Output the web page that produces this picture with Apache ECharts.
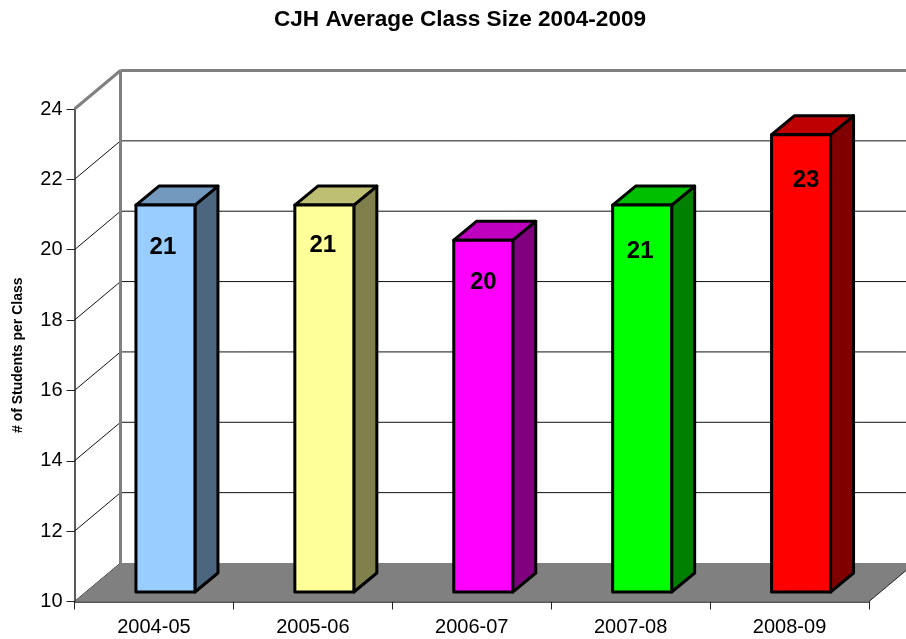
<!DOCTYPE html>
<html>
<head>
<meta charset="utf-8">
<title>CJH Average Class Size</title>
<script src="https://cdn.jsdelivr.net/npm/echarts@6/dist/echarts.min.js"></script>
<style>
html, body { margin: 0; padding: 0; background: #fff; }
#chart { width: 906px; height: 639px; }
</style>
</head>
<body>
<div id="chart"></div>
<script>
const years = ['2004-05', '2005-06', '2006-07', '2007-08', '2008-09'];
const classSize = [21, 21, 20, 21, 23];
const yTicks = [10, 12, 14, 16, 18, 20, 22, 24];

const frontColors = ['#99CCFF', '#FFFF99', '#FF00FF', '#00FF00', '#FF0000'];
const topColors = ['#7399BF', '#BFBF73', '#BF00BF', '#00BF00', '#BF0000'];
const sideColors = ['#4D6680', '#80804D', '#800080', '#008000', '#800000'];

// hand placed labels in the original, offset from centre of bar front / from its top
const labelDx = [-2.5, -1.5, 0, -2, 5];
const labelDy = [42, 40, 42, 46, 46];

// fake 3d depth
const wallDx = 46, wallDy = 38.5;
const barDx = 23, barDy = 19;
const barX = 11.5, barY = 9.5;
const barW = 59;
const font = '"Liberation Sans", Arial, sans-serif';

function renderWall(params, api) {
	let v = api.value(1);
	let p = api.coord([0, v]);
	let x0 = p[0] - api.size([1, 0])[0] / 2;
	let y0 = p[1];
	let isTop = v === yTicks[yTicks.length - 1];
	let stroke = isTop
		? { stroke: '#808080', lineWidth: 3 }
		: { stroke: '#111', lineWidth: 1 };
	let children = [
		{ type: 'line', shape: { x1: x0, y1: y0, x2: x0 + wallDx, y2: y0 - wallDy }, style: stroke },
	];
	if (v !== yTicks[0]) {
		children.push({ type: 'line', shape: { x1: x0 + wallDx, y1: y0 - wallDy, x2: x0 + 1000, y2: y0 - wallDy }, style: stroke });
	}
	if (isTop) {
		let low = api.coord([0, yTicks[0]]);
		children.push({ type: 'line', shape: { x1: x0 + wallDx, y1: y0 - wallDy, x2: x0 + wallDx, y2: low[1] - wallDy }, style: stroke });
	}
	return { type: 'group', children };
}

function renderFloor(params, api) {
	let band = api.size([1, 0])[0];
	let a = api.coord([0, api.value(1)]);
	let b = api.coord([years.length - 1, api.value(1)]);
	let x0 = a[0] - band / 2, x1 = b[0] + band / 2, y = a[1];
	return {
		type: 'group',
		children: [
			{
				type: 'polygon',
				shape: { points: [[x0, y], [x1, y], [x1 + wallDx, y - wallDy], [x0 + wallDx, y - wallDy]] },
				style: { fill: '#808080' },
			},
			{ type: 'line', shape: { x1: x1, y1: y, x2: x1 + wallDx, y2: y - wallDy }, style: { stroke: '#222', lineWidth: 1 } },
		],
	};
}

function renderBar(params, api) {
	let i = params.dataIndex;
	let top = api.coord([i, api.value(1)]);
	let low = api.coord([i, yTicks[0]]);
	let x = top[0] + barX - barW / 2;
	let yt = top[1] - barY;
	let yb = low[1] - barY;
	let line = { stroke: '#000', lineWidth: 3, lineJoin: 'round' };
	return {
		type: 'group',
		children: [
			{
				type: 'polygon',
				shape: { points: [[x + barW, yt], [x + barW + barDx, yt - barDy], [x + barW + barDx, yb - barDy], [x + barW, yb]] },
				style: Object.assign({ fill: sideColors[i] }, line),
			},
			{
				type: 'polygon',
				shape: { points: [[x, yt], [x + barDx, yt - barDy], [x + barW + barDx, yt - barDy], [x + barW, yt]] },
				style: Object.assign({ fill: topColors[i] }, line),
			},
			{
				type: 'rect',
				shape: { x: x, y: yt, width: barW, height: yb - yt },
				style: Object.assign({ fill: frontColors[i] }, line),
			},
			{
				type: 'text',
				style: {
					x: x + barW / 2 + labelDx[i],
					y: yt + labelDy[i],
					text: String(api.value(1)),
					fill: '#000',
					font: 'bold 24px ' + font,
					align: 'center',
					verticalAlign: 'middle',
				},
			},
		],
	};
}

let chart = echarts.init(document.getElementById('chart'));
chart.setOption({
	animation: false,
	backgroundColor: '#fff',
	title: {
		text: 'CJH Average Class Size 2004-2009',
		left: 455,
		top: 3,
		textAlign: 'center',
		textStyle: { fontFamily: font, fontSize: 22.6, fontWeight: 'bold', color: '#000' },
	},
	grid: { left: 74.5, right: 37, top: 109, bottom: 37.5 },
	xAxis: {
		type: 'category',
		data: years,
		axisLine: { lineStyle: { color: '#222', width: 1.5 } },
		axisTick: { show: true, length: 8, lineStyle: { color: '#222', width: 1 } },
		axisLabel: { fontFamily: font, fontSize: 20, color: '#000', margin: 16 },
	},
	yAxis: {
		type: 'value',
		min: 10,
		max: 24,
		interval: 2,
		name: '# of Students per Class',
		nameLocation: 'middle',
		nameGap: 49,
		nameTextStyle: { fontFamily: font, fontSize: 14, fontWeight: 'bold', color: '#000' },
		axisLine: { show: true, lineStyle: { color: '#222', width: 1.5 } },
		axisTick: { show: true, length: 8, lineStyle: { color: '#222', width: 1 } },
		axisLabel: { fontFamily: font, fontSize: 20, color: '#000', margin: 12 },
		splitLine: { show: false },
	},
	series: [
		{
			type: 'custom',
			z: 1,
			clip: false,
			data: yTicks.map(v => [0, v]),
			renderItem: renderWall,
			silent: true,
		},
		{
			type: 'custom',
			z: 2,
			clip: false,
			data: [[0, yTicks[0]]],
			renderItem: renderFloor,
			silent: true,
		},
		{
			type: 'custom',
			z: 3,
			clip: false,
			data: classSize.map((v, i) => [i, v]),
			renderItem: renderBar,
		},
	],
});
window.addEventListener('resize', () => {
	chart.resize();
});
</script>
</body>
</html>
